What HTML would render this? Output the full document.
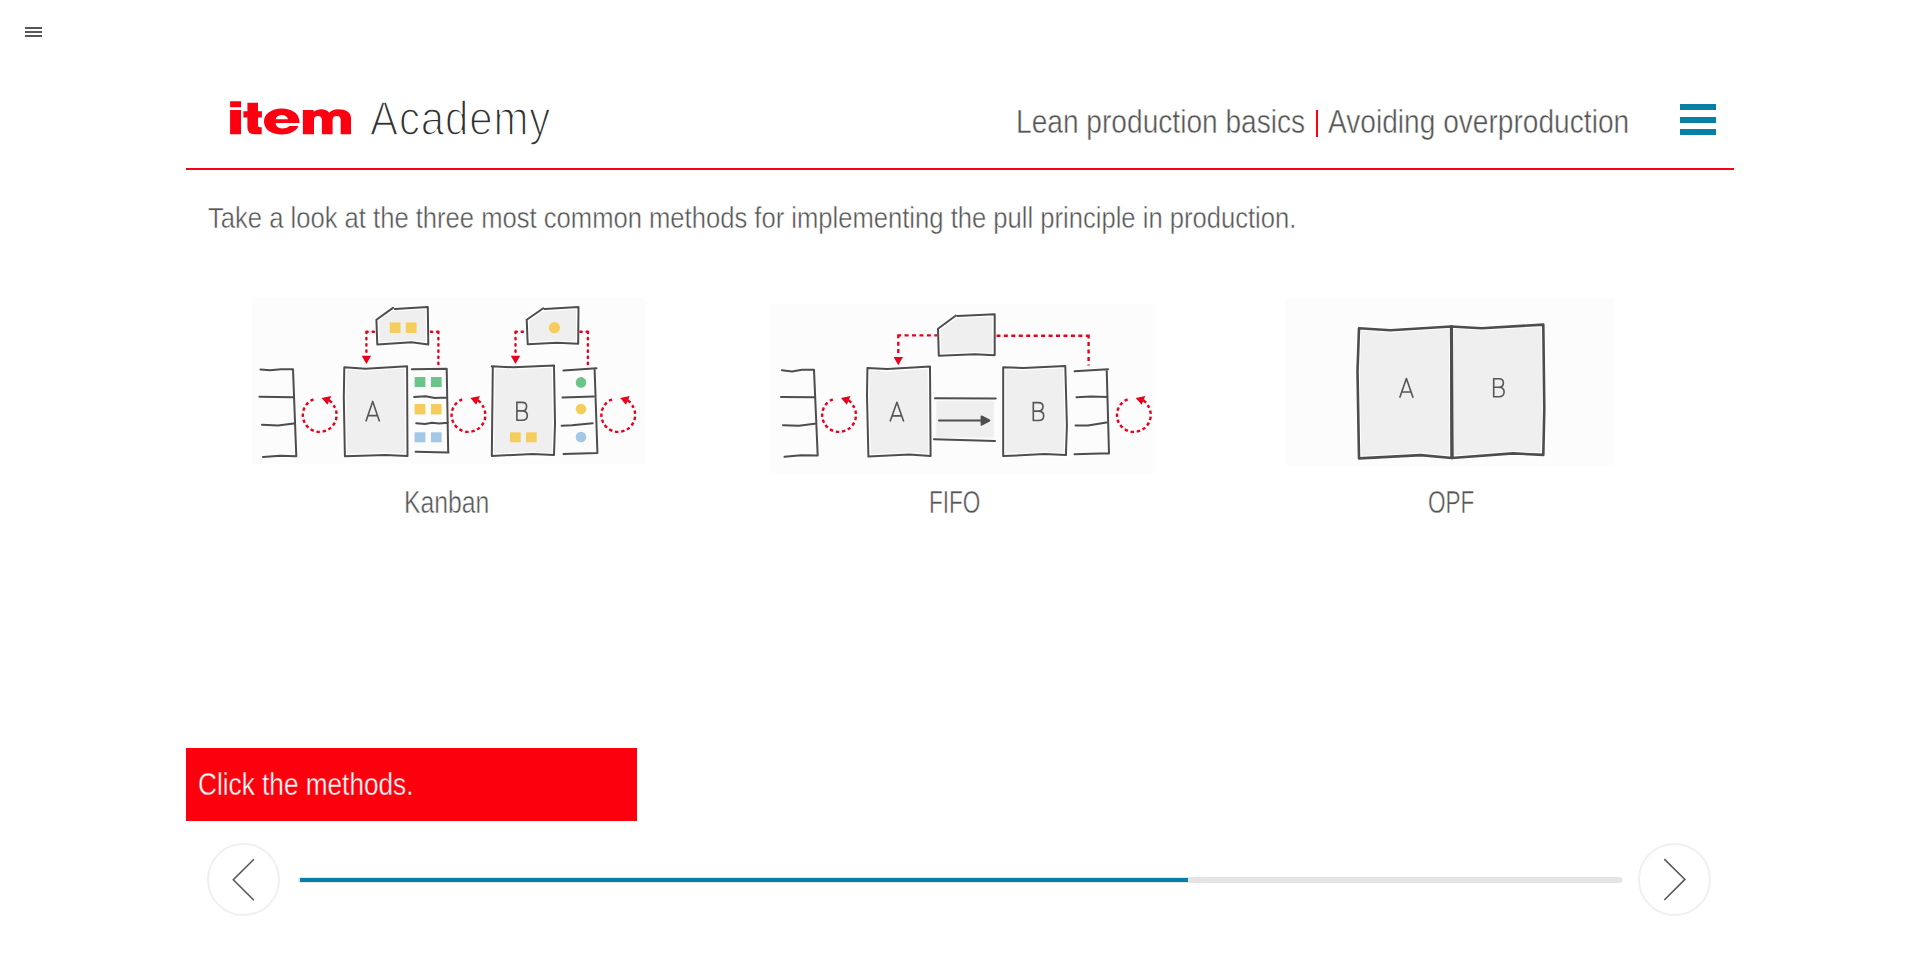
<!DOCTYPE html>
<html lang="en">
<head>
<meta charset="utf-8">
<title>item Academy - Lean production basics</title>
<style>
html,body{margin:0;padding:0;background:#fff;}
body{width:1920px;height:955px;overflow:hidden;position:relative;font-family:"Liberation Sans",sans-serif;}
.t{position:absolute;white-space:nowrap;transform-origin:0 0;line-height:1;}
.lt{-webkit-text-stroke:0.45px #fff;}
.ham{position:absolute;left:25px;width:17px;height:2px;background:#575757;}
.hb{position:absolute;left:1680px;width:36px;height:6px;background:#0780a8;}
#redline{position:absolute;left:186px;top:167.5px;width:1548px;height:2.5px;background:#fc0012;}
#btn{position:absolute;left:186px;top:748px;width:451px;height:73px;background:#fd000d;}
.navc{position:absolute;top:843px;width:68.5px;height:68.5px;border:2px solid #f0f0f0;border-radius:50%;}
#track{position:absolute;left:297.5px;top:877px;width:1324px;height:6px;background:#e4e4e4;border-radius:3px;}
#prog{position:absolute;left:300px;top:878px;width:888px;height:3.8px;background:#0780a8;}
</style>
</head>
<body>
<!-- top-left menu icon -->
<div class="ham" style="top:27px"></div>
<div class="ham" style="top:31px"></div>
<div class="ham" style="top:35px"></div>

<!-- header -->
<div class="t" id="academy" style="left:369.5px;top:95.2px;font-size:48px;letter-spacing:1px;color:#2e2e2e;-webkit-text-stroke:1.6px #fff;transform:scaleX(0.875)">Academy</div>
<div class="t lt" id="lean" style="left:1015.5px;top:105px;font-size:33px;color:#555;transform:scaleX(0.852)">Lean production basics</div>
<div class="t" id="sep" style="left:1316px;top:110px;width:2.2px;height:27px;background:#fc0012"></div>
<div class="t lt" id="avoid" style="left:1327.5px;top:105px;font-size:33px;color:#555;transform:scaleX(0.852)">Avoiding overproduction</div>
<div class="hb" style="top:104px"></div>
<div class="hb" style="top:117px"></div>
<div class="hb" style="top:129px"></div>
<div id="redline"></div>

<!-- intro text -->
<div class="t lt" id="intro" style="left:208px;top:202.8px;font-size:30px;color:#555;transform:scaleX(0.8532)">Take a look at the three most common methods for implementing the pull principle in production.</div>

<!-- labels -->
<div class="t lt" id="lk" style="left:404px;top:487px;font-size:30.5px;color:#555;transform:scaleX(0.812)">Kanban</div>
<div class="t lt" id="lf" style="left:929px;top:487px;font-size:30.5px;color:#555;transform:scaleX(0.74)">FIFO</div>
<div class="t lt" id="lo" style="left:1428px;top:487px;font-size:30.5px;color:#555;transform:scaleX(0.74)">OPF</div>

<!-- instruction button -->
<div id="btn"></div>
<div class="t" id="btxt" style="left:198.3px;top:769px;font-size:31px;color:#fff;-webkit-text-stroke:0.4px #fc000e;transform:scaleX(0.845)">Click the methods.</div>

<!-- navigation -->
<div class="navc" style="left:207px"></div>
<div class="navc" style="left:1638px"></div>
<div id="track"></div>
<div id="prog"></div>

<svg id="gfx" width="1920" height="955" viewBox="0 0 1920 955" style="position:absolute;left:0;top:0">
  <!-- nav chevrons -->
  <polyline points="253.9,859.3 233.3,879.7 253.9,900.2" fill="none" stroke="#5a5a5a" stroke-width="1.6"/>
  <polyline points="1664.3,859.1 1684.9,879.4 1664.3,900" fill="none" stroke="#5a5a5a" stroke-width="1.6"/>
  <!-- LOGO -->
  <g id="logo" fill="#fc0012">
    <path d="M230.1,101.2 H241 V107.3 H230.1 Z M230.1,109.9 H241 V134.2 H230.1 Z"/>
    <path d="M247.4,102.7 H258 V111.2 H261.9 V117.4 H258 V125 Q258,127.3 260,127.3 H261.7 V134.2 H254.5 Q247.4,134.2 247.4,127.5 V117.4 H243.4 V111.2 H247.4 Z"/>
    <path fill-rule="evenodd" d="M299.4,123.1 L299.4,121.5 C299.4,113.5 291.5,108.5 281.7,108.5 C271.5,108.5 264,114 264,121.5 C264,129.5 271.5,134.5 281.7,134.5 C289.5,134.5 296,131.5 298.5,126 L289.5,126 C287.8,127.7 285.3,128.5 282,128.5 C278.5,128.5 275.8,126.5 275.6,123.1 Z M275.6,119.3 C276,116.6 278.6,115 281.8,115 C285,115 287.6,116.6 288,119.3 Z"/>
    <path d="M302.9,134.2 V110.1 H313.6 V111.8 C315.5,110.2 318.3,109.3 321.5,109.3 C325,109.3 327.6,110.6 329.2,112.8 C331.2,110.6 334.3,109.3 338,109.3 C346,109.3 351,112.2 351,118.5 V134.2 H340.7 V120 C340.7,117.5 339.5,116.1 336.7,116.1 C334,116.1 332.6,117.5 332.6,120 V134.2 H321.9 V120 C321.9,117.5 320.5,116.1 318,116.1 C315.5,116.1 314,117.5 314,120 V134.2 Z"/>
  </g>
  <!-- ILLUSTRATIONS -->
  <g id="ill">
  <defs>
    <g id="cyc">
      <path d="M-6.3,-15.7 A16.9,16.9 0 1 0 13.8,-9.7" fill="none" stroke="#e8001c" stroke-width="2.4" stroke-dasharray="3.4 2.75"/>
      <path d="M1.9,-17.1 L11.4,-19.1 L7.7,-10.3 Z" fill="#e8001c"/>
      <path d="M9.3,-14.8 L12.2,-12.3" stroke="#e8001c" stroke-width="2.4"/>
    </g>
    <path id="arrD" d="M-4.7,0 L4.7,0 L0,8.2 Z" fill="#e8001c"/>
  </defs>
  <g fill="none" stroke="#4d4d4d" stroke-width="2" stroke-linejoin="round" stroke-linecap="round">
  <!-- ===== KANBAN ===== -->
  <rect x="251.6" y="297.2" width="393" height="167.2" fill="#fcfcfc" stroke="none"/>
  <!-- left shelf -->
  <path d="M260.5,369.5 L270,370.3 L281,369.2 L293,369.3 L296.3,456.3 M259.5,396.8 L293.5,397.2 M262,424.7 L278,425.4 L293.8,423.5 M263,456.9 L280,455.7 L296.3,456.3"/>
  <!-- box A -->
  <path d="M344.3,367.3 L365.6,368.8 L407.1,366.3 L407.5,455.9 L385.4,454.9 L344.9,456.3 L343.8,397.4 Z" fill="#efefef" stroke="#fff" stroke-width="4.6"/>
  <path d="M344.3,367.3 L365.6,368.8 L407.1,366.3 L407.5,455.9 L385.4,454.9 L344.9,456.3 L343.8,397.4 Z" fill="none"/>
  <!-- card 1 -->
  <path d="M376.4,319.8 L393,307.9 M394.9,308.9 L427.8,307 L428.3,344.4 L411.5,342.3 L377.3,344.5 L376.4,319.8" fill="#efefef" stroke="#fff" stroke-width="4.6"/>
  <path d="M376.4,319.8 L393,307.9 M394.9,308.9 L427.8,307 L428.3,344.4 L411.5,342.3 L377.3,344.5 L376.4,319.8" fill="none"/>
  <!-- shelf 1 -->
  <path d="M411.8,369.2 L446.7,368.8 L448.2,452.5 M414.1,396.9 L425.5,396.2 L435,397.9 L446.5,397.6 M416.2,423.3 L425,423.9 L432,422.8 L439,423.5 L448,422.8 M415.6,451.7 L448.6,452.5"/>
  <!-- box B -->
  <path d="M491.8,366.3 L513.5,367.3 L554,365.4 L555,423.8 L554,455 L532.4,454 L491.8,455.9 L492.8,367.3 Z" fill="#efefef" stroke="#fff" stroke-width="4.6"/>
  <path d="M491.8,366.3 L513.5,367.3 L554,365.4 L555,423.8 L554,455 L532.4,454 L491.8,455.9 L492.8,367.3 Z" fill="none"/>
  <!-- card 2 -->
  <path d="M526.7,319.8 L543.3,308.3 M544.6,308.9 L578.5,307 L578.2,343.7 L556.9,342.8 L527.7,344.3 L526.7,319.8" fill="#efefef" stroke="#fff" stroke-width="4.6"/>
  <path d="M526.7,319.8 L543.3,308.3 M544.6,308.9 L578.5,307 L578.2,343.7 L556.9,342.8 L527.7,344.3 L526.7,319.8" fill="none"/>
  <!-- shelf 2 -->
  <path d="M563.5,370.6 L596.5,368.2 M594.6,368.5 L597.4,452.5 M562.5,397.4 L593.6,396.5 M561.6,425.7 L572,425.2 L592.7,423.3 M563.5,454 L597.4,453"/>
  <!-- ===== FIFO ===== -->
  <rect x="770.3" y="303.9" width="383.7" height="169" fill="#fcfcfc" stroke="none"/>
  <path d="M781.9,370.2 L792,371.5 L802,369.8 L814,369.8 L817.7,455.4 M781,397 L814,397.2 M783,425.3 L799,425.7 L814.5,423.8 M784.5,456.8 L801,455.2 L817.7,455.5"/>
  <path d="M867.4,367.9 L887.3,369.1 L930,366.6 L930.6,456 L909.1,454.6 L868.4,456.6 L867,395.4 Z" fill="#efefef" stroke="#fff" stroke-width="4.6"/>
  <path d="M867.4,367.9 L887.3,369.1 L930,366.6 L930.6,456 L909.1,454.6 L868.4,456.6 L867,395.4 Z" fill="none"/>
  <rect x="936.2" y="401" width="57.6" height="36.6" fill="#efefef" stroke="none"/>
  <path d="M935,398.2 L995.7,398.6 M934,439.3 L995,440.9"/>
  <path d="M939,420.4 L982,420.4"/>
  <path d="M981.6,416.4 L989.3,420.5 L981.6,424.7 Z" fill="#4d4d4d"/>
  <path d="M938,328.8 L955.9,315.5 M957.5,316 L994.7,314.3 L994.7,355.3 L975,354.3 L938.8,355.7 L938,328.8" fill="#efefef" stroke="#fff" stroke-width="4.6"/>
  <path d="M938,328.8 L955.9,315.5 M957.5,316 L994.7,314.3 L994.7,355.3 L975,354.3 L938.8,355.7 L938,328.8" fill="none"/>
  <path d="M1003.2,367.2 L1023.5,368 L1065.3,366 L1066.9,425.3 L1065.9,455.1 L1044.4,454.1 L1003.2,456.1 Z" fill="#efefef" stroke="#fff" stroke-width="4.6"/>
  <path d="M1003.2,367.2 L1023.5,368 L1065.3,366 L1066.9,425.3 L1065.9,455.1 L1044.4,454.1 L1003.2,456.1 Z" fill="none"/>
  <path d="M1074.6,371.2 L1108,369.2 M1106.7,369.5 L1109,453.5 M1076.5,397.2 L1091,396.5 L1107.5,396.9 M1075.5,425.5 L1088,425.4 L1106.5,422.5 M1074.5,454.2 L1109,453.3"/>
  <!-- ===== OPF ===== -->
  <rect x="1285" y="298.4" width="328.5" height="166.9" fill="#fcfcfc" stroke="none"/>
  <g stroke-width="2.6">
  <path d="M1359,328.2 L1390.4,330.3 L1451.2,326.5 L1451.8,458 L1420.8,455.1 L1359,458.4 L1357.5,371.1 Z" fill="#efefef" stroke="#fff" stroke-width="4.6"/>
  <path d="M1451.2,326.5 L1481.5,328.2 L1543.3,324.6 L1544.3,408.8 L1543.3,454.9 L1512.9,453.4 L1451.8,458 Z" fill="#efefef" stroke="#fff" stroke-width="4.6"/>
  <path d="M1359,328.2 L1390.4,330.3 L1451.2,326.5 L1451.8,458 L1420.8,455.1 L1359,458.4 L1357.5,371.1 Z" fill="none"/>
  <path d="M1451.2,326.5 L1481.5,328.2 L1543.3,324.6 L1544.3,408.8 L1543.3,454.9 L1512.9,453.4 L1451.8,458 Z" fill="none"/>
  <path d="M1451.9,326.2 L1452.6,458" stroke-width="2.2"/>
  </g>
  </g>
  <!-- colored tokens -->
  <g fill="#f5cd5c">
    <rect x="389.8" y="322.4" width="10.7" height="10.6"/><rect x="405.8" y="322.4" width="10.7" height="10.6"/>
    <rect x="414.6" y="404" width="10.8" height="10.4"/><rect x="431" y="404" width="10.6" height="10.4"/>
    <rect x="510" y="432.3" width="10.7" height="10"/><rect x="526" y="432.3" width="10.7" height="10"/>
    <circle cx="554.4" cy="327.7" r="5.6"/><circle cx="581" cy="409.1" r="5.3"/>
  </g>
  <g fill="#6bc48a">
    <rect x="414.6" y="377" width="10.8" height="10"/><rect x="431" y="377" width="10.6" height="10"/>
    <circle cx="581" cy="382.4" r="5.3"/>
  </g>
  <g fill="#a3c8e6">
    <rect x="414.6" y="432.3" width="10.8" height="10"/><rect x="431" y="432.3" width="10.6" height="10"/>
    <circle cx="581" cy="437" r="5.3"/>
  </g>
  <!-- red dotted connectors -->
  <g fill="none" stroke="#e8001c" stroke-width="2.4" stroke-linecap="round" stroke-dasharray="1.3 4.9">
    <path d="M366.4,331.8 H376 M366.4,331.8 V353"/>
    <path d="M438.4,331.8 H429.5 M438.4,331.8 V364.5"/>
    <path d="M515.5,331.8 H525.5 M515.5,331.8 V353"/>
    <path d="M587.9,331.8 H579.8 M587.9,331.8 V364.5"/>
  </g>
  <g fill="none" stroke="#e8001c" stroke-width="2.4" stroke-dasharray="4 3.45">
    <path d="M897.1,335.4 H937 M898.3,334.2 V356"/>
    <path d="M1089.8,335.8 H996.5 M1088.6,334.6 V365.6"/>
  </g>
  <use href="#arrD" x="366.4" y="355.8"/>
  <use href="#arrD" x="515.5" y="355.8"/>
  <use href="#arrD" x="898.3" y="357"/>
  <!-- cycle circles -->
  <use href="#cyc" x="319.75" y="415"/>
  <use href="#cyc" x="468.5" y="415"/>
  <use href="#cyc" x="618.3" y="415"/>
  <use href="#cyc" x="839.1" y="415"/>
  <use href="#cyc" x="1133.9" y="415"/>
  <!-- letters -->
  <g fill="none" stroke="#555" stroke-width="1.6" stroke-linejoin="round">
    <path d="M365.9,421.4 L372.7,401.4 L379.5,421.4 M368,415.6 L377.4,415.6"/>
    <path d="M890.1,421.6 L896.9,402.3 L903.7,421.6 M892.2,415.9 L901.6,415.9"/>
    <path d="M1399.7,397.7 L1406.4,378.6 L1413.1,397.7 M1401.8,392 L1411,392"/>
    <g id="bK"><path d="M516.9,402.4 H522 C525.3,402.4 526.6,404.3 526.6,406.4 C526.6,408.9 524.9,410.9 522,410.9 H516.9 M522,410.9 C525.8,410.9 527.3,413.1 527.3,415.6 C527.3,418.4 525.6,420.3 522,420.3 H516.9 V401.6"/></g>
    <use href="#bK" x="516.4" y="0.2"/>
    <use href="#bK" x="976.8" y="-23.6"/>
  </g>

  </g>
</svg>
</body>
</html>
